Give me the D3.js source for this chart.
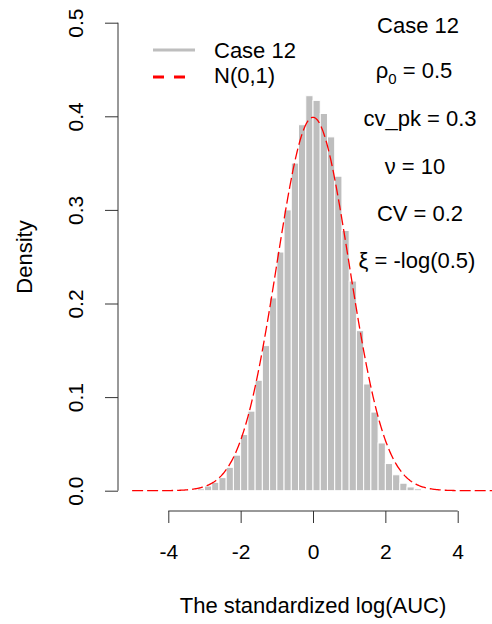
<!DOCTYPE html>
<html>
<head>
<meta charset="utf-8">
<script src="https://cdn.jsdelivr.net/npm/d3@7"></script>
<style>
  body { margin: 0; background: #fff; }
  svg { font-family: "Liberation Sans", Arial, sans-serif; }
</style>
</head>
<body>
<div id="chartDiv"></div>
<script>
var width = 492;
var height = 624;

// histogram bins (lower edge, width 0.2) and their densities
var binLower = [-3.2, -3.0, -2.8, -2.6, -2.4, -2.2, -2.0, -1.8, -1.6, -1.4, -1.2, -1.0, -0.8, -0.6, -0.4, -0.2,
                0.0, 0.2, 0.4, 0.6, 0.8, 1.0, 1.2, 1.4, 1.6, 1.8, 2.0, 2.2, 2.4, 2.6, 2.8];
var binWidth = 0.2;
var density = [0.002, 0.005, 0.009, 0.014, 0.025, 0.038, 0.060, 0.085, 0.118, 0.155, 0.206, 0.255, 0.300, 0.350, 0.391, 0.422,
               0.417, 0.403, 0.378, 0.336, 0.278, 0.224, 0.171, 0.114, 0.084, 0.051, 0.029, 0.017, 0.008, 0.004, 0.002];

// reference curve N(mean, sd) over this range
var normParams = [0, 1];
var curveRange = [-5, 5];

var xTicks = [-4, -2, 0, 2, 4];
var yTicks = [0, 0.1, 0.2, 0.3, 0.4, 0.5];
var legendLabels = ["Case 12", "N(0,1)"];

var x = d3.scaleLinear().domain([-4, 4]).range([168.3, 457.7]);
var y = d3.scaleLinear().domain([0, 0.5]).range([490.7, 22.7]);

var svg = d3.select("#chartDiv")
    .append("svg")
    .attr("width", width)
    .attr("height", height);

// bars
svg.append("g")
  .selectAll("rect")
  .data(binLower)
  .join("rect")
    .attr("x", d => x(d))
    .attr("y", (d, i) => y(density[i]))
    .attr("width", d => x(d + binWidth) - x(d))
    .attr("height", (d, i) => y(0) - y(density[i]))
    .attr("fill", "#bebebe")
    .attr("stroke", "#fff")
    .attr("stroke-width", 1);

// N(0,1) curve
var pdf = v => Math.exp(-0.5 * Math.pow((v - normParams[0]) / normParams[1], 2)) / (normParams[1] * Math.sqrt(2 * Math.PI));
var xs = d3.range(curveRange[0], curveRange[1] + 0.001, 0.02);
svg.append("path")
    .datum(xs)
    .attr("fill", "none")
    .attr("stroke", "#ff0000")
    .attr("stroke-width", 1.3)
    .attr("stroke-dasharray", "11,4")
    .attr("d", d3.line().x(d => x(d)).y(d => y(pdf(d))));

// x axis
var gx = svg.append("g")
    .attr("transform", "translate(0,511)")
    .call(d3.axisBottom(x).tickValues(xTicks).tickSize(12).tickSizeOuter(0).tickFormat(d3.format("d")));
gx.select(".domain").attr("stroke", "#333").attr("d", `M${x(-4)},0H${x(4)}`);
gx.selectAll(".tick line").attr("stroke", "#333");
gx.selectAll(".tick text")
    .attr("y", 48).attr("dy", 0)
    .attr("fill", "#000")
    .style("font-size", "21px")
    .text(d => d < 0 ? "-" + Math.abs(d) : d);

// y axis
var gy = svg.append("g")
    .attr("transform", "translate(118,0)")
    .call(d3.axisLeft(y).tickValues(yTicks).tickSize(13).tickSizeOuter(0).tickFormat(d3.format(".1f")));
gy.select(".domain").attr("stroke", "#333").attr("d", `M0,${y(0)}V${y(0.5)}`);
gy.selectAll(".tick line").attr("stroke", "#333");
gy.selectAll(".tick text")
    .attr("x", 0).attr("dy", 0)
    .attr("transform", "translate(-35,0) rotate(-90)")
    .attr("text-anchor", "middle")
    .attr("fill", "#000")
    .style("font-size", "21px");

// axis titles
svg.append("text")
    .attr("x", 313).attr("y", 613)
    .attr("text-anchor", "middle")
    .style("font-size", "22px")
    .text("The standardized log(AUC)");

svg.append("text")
    .attr("transform", "translate(32,257) rotate(-90)")
    .attr("text-anchor", "middle")
    .style("font-size", "22px")
    .text("Density");

// legend
var legend = svg.append("g");
legend.append("line")
    .attr("x1", 153).attr("x2", 195).attr("y1", 50).attr("y2", 50)
    .attr("stroke", "#bebebe").attr("stroke-width", 3);
legend.append("line")
    .attr("x1", 153).attr("x2", 195).attr("y1", 77).attr("y2", 77)
    .attr("stroke", "#ff0000").attr("stroke-width", 3)
    .attr("stroke-dasharray", "11,10");
legend.selectAll("text")
  .data(legendLabels)
  .join("text")
    .attr("x", 214)
    .attr("y", (d, i) => 58 + i * 25)
    .style("font-size", "22px")
    .text(d => d);

// annotations
var ann = svg.append("g").attr("text-anchor", "middle").style("font-size", "22px");
ann.append("text").attr("x", 418).attr("y", 33).text("Case 12");

var t1 = ann.append("text").attr("x", 414).attr("y", 78);
t1.append("tspan").text("\u03c1");
t1.append("tspan").attr("dy", 6).style("font-size", "15px").text("0");
t1.append("tspan").attr("dy", -6).text(" = 0.5");

ann.append("text").attr("x", 420).attr("y", 126).text("cv_pk = 0.3");
ann.append("text").attr("x", 415).attr("y", 174).text("\u03bd = 10");
ann.append("text").attr("x", 420).attr("y", 221).text("CV = 0.2");
ann.append("text").attr("x", 417).attr("y", 268).text("\u03be = -log(0.5)");
</script>
</body>
</html>
